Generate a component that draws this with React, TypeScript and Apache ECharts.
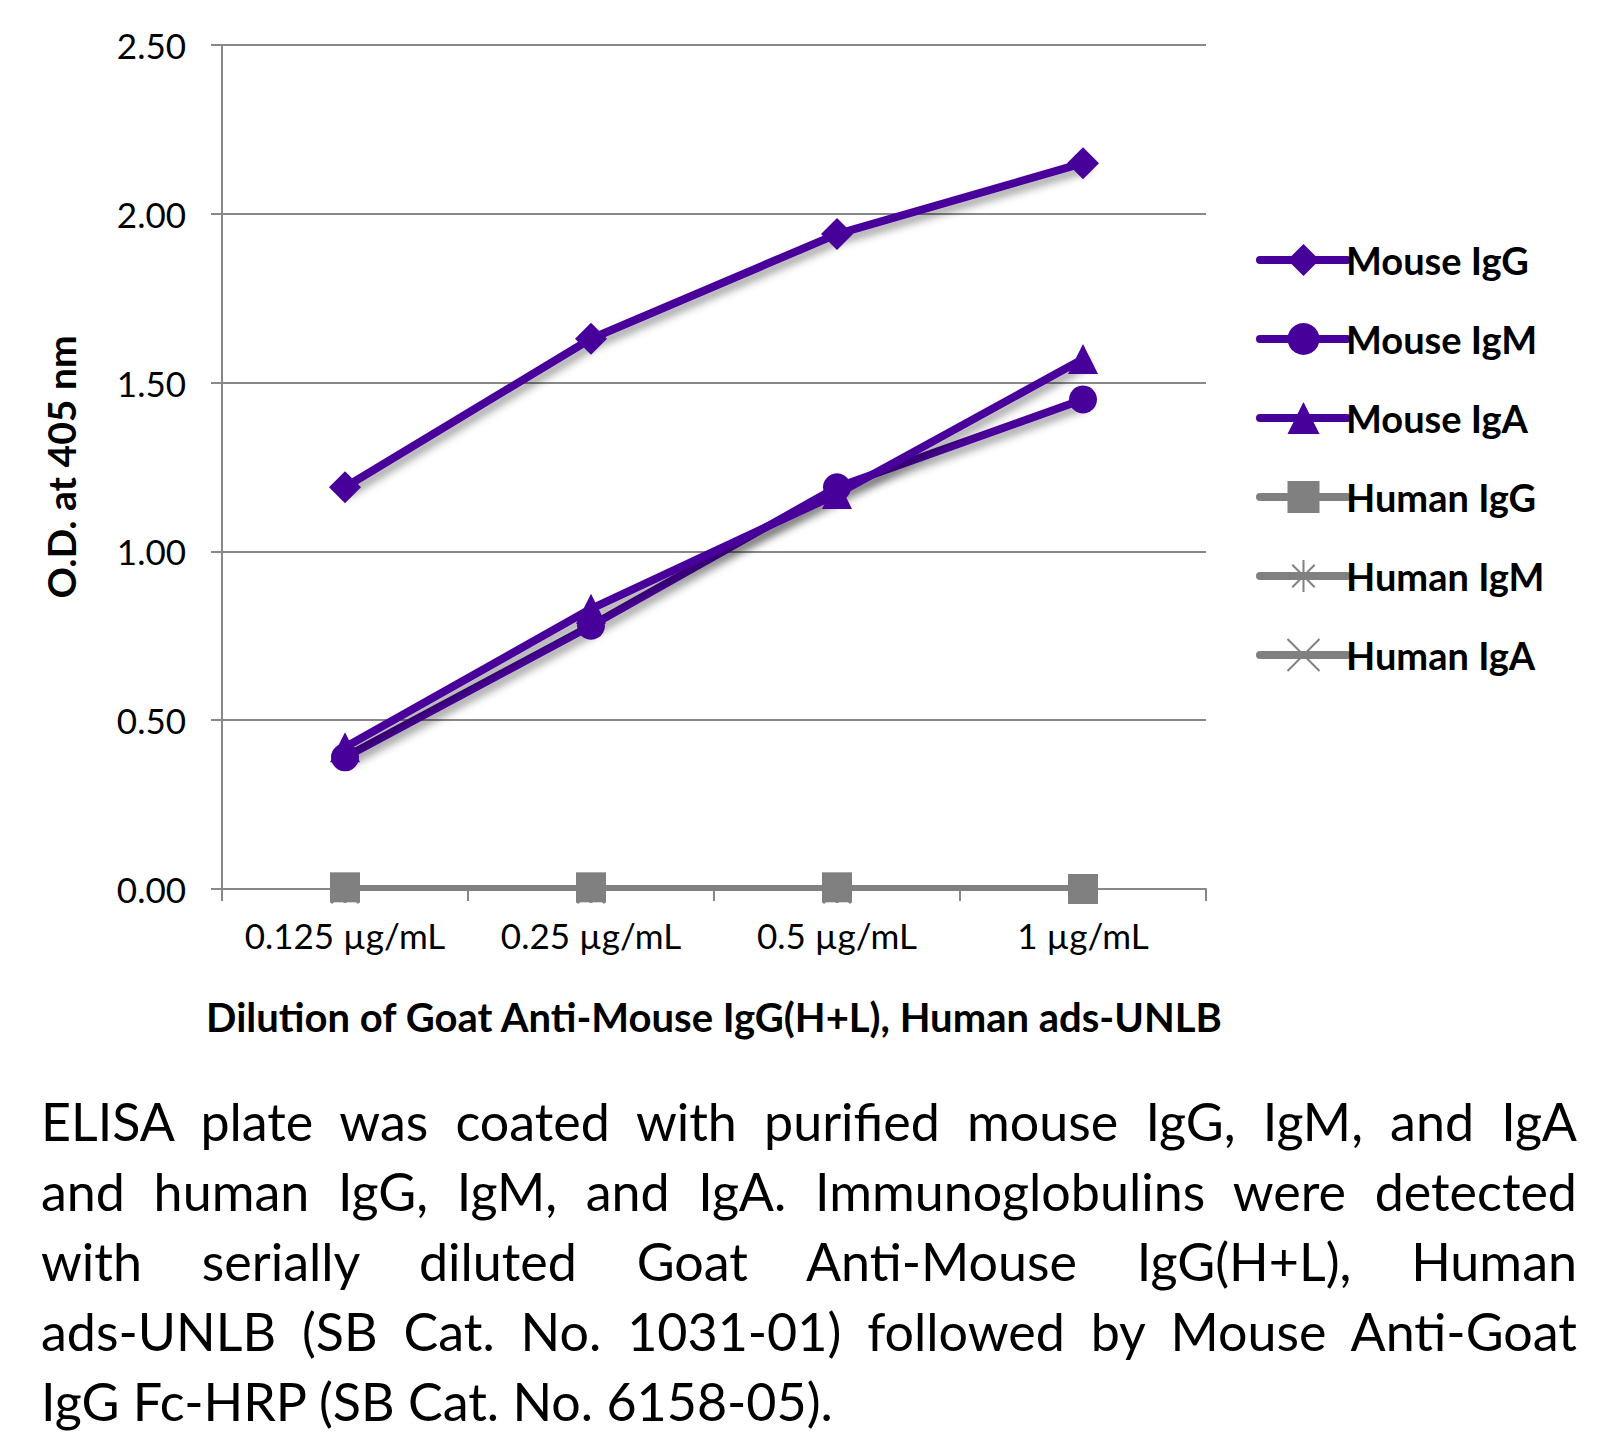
import React, { useEffect, useRef } from "react";
import * as echarts from "echarts";

const categories = ["0.125 µg/mL", "0.25 µg/mL", "0.5 µg/mL", "1 µg/mL"];
const mouseIgG = [1.19, 1.63, 1.94, 2.15];
const mouseIgM = [0.39, 0.78, 1.19, 1.45];
const mouseIgA = [0.42, 0.83, 1.17, 1.57];
const humanIgG = [0.005, 0.005, 0.005, 0.0];
const humanIgM = [0.0, 0.0, 0.0, 0.0];
const humanIgA = [0.0, 0.0, 0.0, 0.0];
const yTicks = { min: 0, max: 2.5, interval: 0.5 };

const captionLines = [
  "ELISA plate was coated with purified mouse IgG, IgM, and IgA",
  "and human IgG, IgM, and IgA.  Immunoglobulins were detected",
  "with serially diluted Goat Anti-Mouse IgG(H+L), Human",
  "ads-UNLB (SB Cat. No. 1031-01) followed by Mouse Anti-Goat",
  "IgG Fc-HRP (SB Cat. No. 6158-05).",
];

const PURPLE = "#48009A";
const GRAY = "#808080";
const FONT = "Lato";

const asterisk = "path://M5,0 L5,10 M0,5 L10,5 M1.5,1.5 L8.5,8.5 M8.5,1.5 L1.5,8.5";
const cross = "path://M0,0 L10,10 M10,0 L0,10";

function mk(name: string, data: number[], color: string, symbol: string, size: number, stroke = false) {
  return {
    name,
    type: "line",
    data,
    symbol,
    symbolSize: size,
    showAllSymbol: true,
    lineStyle: {
      color,
      width: 8,
      cap: "round",
      shadowColor: "rgba(0,0,0,0.4)",
      shadowBlur: 8,
      shadowOffsetX: 4,
      shadowOffsetY: 5,
    },
    itemStyle: stroke
      ? { color: "rgba(0,0,0,0)", borderColor: color, borderWidth: 3, opacity: 1 }
      : { color, borderColor: color, borderWidth: 0, opacity: 1 },
    emphasis: { disabled: true },
  };
}

export default function App() {
  const ref = useRef<HTMLDivElement>(null);
  useEffect(() => {
    document.body.style.margin = "0";
    const chart = echarts.init(ref.current!, null, { renderer: "svg" });
    chart.setOption({
      animation: false,
      backgroundColor: "#ffffff",
      grid: { left: 222, top: 45, right: 402, bottom: 179, containLabel: false },
      legend: {
        orient: "vertical",
        left: 1251,
        top: 235,
        itemWidth: 87,
        itemHeight: 40,
        itemGap: 39,
        lineStyle: { width: 8, cap: "round", shadowBlur: 0, shadowOffsetX: 0, shadowOffsetY: 0 },
        textStyle: { fontFamily: FONT, fontWeight: "bold", fontSize: 38, color: "#000", lineHeight: 40, padding: [0, 0, 0, -6] },
        data: ["Mouse IgG", "Mouse IgM", "Mouse IgA", "Human IgG", "Human IgM", "Human IgA"],
      },
      xAxis: {
        type: "category",
        data: categories,
        boundaryGap: true,
        axisLine: { show: true, lineStyle: { color: "#888", width: 2 } },
        axisTick: { show: true, length: 12, lineStyle: { color: "#888", width: 2 } },
        axisLabel: { fontFamily: FONT, fontSize: 35, color: "#000", margin: 28, interval: 0 },
        name: "Dilution of Goat Anti-Mouse IgG(H+L), Human ads-UNLB",
        nameLocation: "middle",
        nameGap: 108,
        nameTextStyle: { fontFamily: FONT, fontWeight: "bold", fontSize: 40, color: "#000" },
      },
      yAxis: {
        type: "value",
        min: yTicks.min,
        max: yTicks.max,
        interval: yTicks.interval,
        axisLine: { show: true, lineStyle: { color: "#888", width: 2 } },
        axisTick: { show: true, length: 11, lineStyle: { color: "#888", width: 2 } },
        splitLine: { show: true, lineStyle: { color: "#888", width: 2 } },
        axisLabel: { fontFamily: FONT, fontSize: 35, color: "#000", margin: 36, formatter: (v: number) => v.toFixed(2) },
        name: "O.D. at 405 nm",
        nameLocation: "middle",
        nameRotate: 90,
        nameGap: 142,
        nameTextStyle: { fontFamily: FONT, fontWeight: "bold", fontSize: 39, color: "#000" },
      },
      series: [
        mk("Mouse IgG", mouseIgG, PURPLE, "diamond", 32),
        mk("Mouse IgM", mouseIgM, PURPLE, "circle", 28),
        mk("Mouse IgA", mouseIgA, PURPLE, "triangle", 30),
        mk("Human IgM", humanIgM, GRAY, asterisk, 28, true),
        mk("Human IgA", humanIgA, GRAY, cross, 28, true),
        mk("Human IgG", humanIgG, GRAY, "rect", 30),
      ],
    });
    return () => chart.dispose();
  }, []);

  return (
    <div style={{ width: 1608, height: 1435, background: "#fff", position: "relative", overflow: "hidden" }}>
      <div ref={ref} style={{ width: 1608, height: 1068 }} />
      <div
        style={{
          position: "absolute",
          left: 41,
          top: 1086,
          width: 1536,
          fontFamily: FONT,
          fontSize: 52,
          lineHeight: "70px",
          color: "#000",
        }}
      >
        {captionLines.map((l, i) => (
          <div
            key={i}
            style={{
              whiteSpace: "nowrap",
              textAlign: "justify",
              textAlignLast: i < captionLines.length - 1 ? "justify" : "left",
            }}
          >
            {l}
          </div>
        ))}
      </div>
    </div>
  );
}
